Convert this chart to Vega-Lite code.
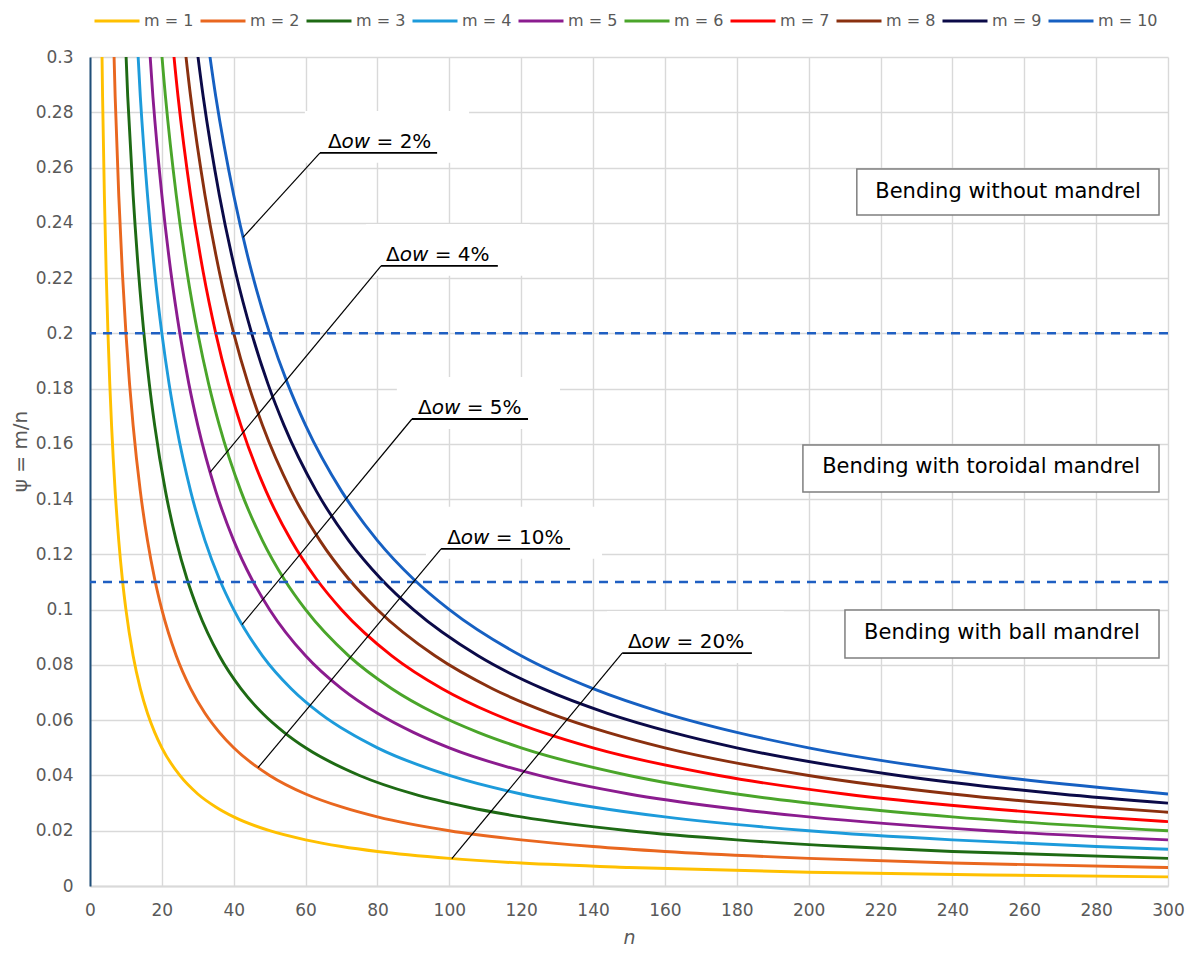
{
  "$schema": "https://vega.github.io/schema/vega-lite/v6.json",
  "width": 1078,
  "height": 829,
  "autosize": {"type": "none"},
  "padding": {"left": 90, "top": 57, "right": 23, "bottom": 68},
  "background": "white",
  "config": {
    "view": {"stroke": null},
    "font": "DejaVu Sans"
  },
  "datasets": {
    "curves": [
      {"m":"m = 1","n":3,"psi":0.3333},{"m":"m = 1","n":3.5,"psi":0.2857},{"m":"m = 1","n":4,"psi":0.25},{"m":"m = 1","n":4.5,"psi":0.2222},{"m":"m = 1","n":5,"psi":0.2},{"m":"m = 1","n":5.5,"psi":0.1818},{"m":"m = 1","n":6,"psi":0.1667},{"m":"m = 1","n":7,"psi":0.1429},{"m":"m = 1","n":8,"psi":0.125},{"m":"m = 1","n":9,"psi":0.1111},{"m":"m = 1","n":10,"psi":0.1},{"m":"m = 1","n":12,"psi":0.0833},{"m":"m = 1","n":14,"psi":0.0714},{"m":"m = 1","n":16,"psi":0.0625},{"m":"m = 1","n":18,"psi":0.0556},{"m":"m = 1","n":20,"psi":0.05},{"m":"m = 1","n":25,"psi":0.04},{"m":"m = 1","n":30,"psi":0.0333},{"m":"m = 1","n":35,"psi":0.0286},{"m":"m = 1","n":40,"psi":0.025},{"m":"m = 1","n":50,"psi":0.02},{"m":"m = 1","n":60,"psi":0.0167},{"m":"m = 1","n":70,"psi":0.0143},{"m":"m = 1","n":80,"psi":0.0125},{"m":"m = 1","n":100,"psi":0.01},{"m":"m = 1","n":120,"psi":0.0083},{"m":"m = 1","n":150,"psi":0.0067},{"m":"m = 1","n":200,"psi":0.005},{"m":"m = 1","n":250,"psi":0.004},{"m":"m = 1","n":300,"psi":0.0033},
      {"m":"m = 2","n":6,"psi":0.3333},{"m":"m = 2","n":7,"psi":0.2857},{"m":"m = 2","n":8,"psi":0.25},{"m":"m = 2","n":9,"psi":0.2222},{"m":"m = 2","n":10,"psi":0.2},{"m":"m = 2","n":11,"psi":0.1818},{"m":"m = 2","n":12,"psi":0.1667},{"m":"m = 2","n":14,"psi":0.1429},{"m":"m = 2","n":16,"psi":0.125},{"m":"m = 2","n":18,"psi":0.1111},{"m":"m = 2","n":20,"psi":0.1},{"m":"m = 2","n":24,"psi":0.0833},{"m":"m = 2","n":28,"psi":0.0714},{"m":"m = 2","n":32,"psi":0.0625},{"m":"m = 2","n":36,"psi":0.0556},{"m":"m = 2","n":40,"psi":0.05},{"m":"m = 2","n":50,"psi":0.04},{"m":"m = 2","n":60,"psi":0.0333},{"m":"m = 2","n":70,"psi":0.0286},{"m":"m = 2","n":80,"psi":0.025},{"m":"m = 2","n":100,"psi":0.02},{"m":"m = 2","n":120,"psi":0.0167},{"m":"m = 2","n":140,"psi":0.0143},{"m":"m = 2","n":160,"psi":0.0125},{"m":"m = 2","n":200,"psi":0.01},{"m":"m = 2","n":240,"psi":0.0083},{"m":"m = 2","n":300,"psi":0.0067},
      {"m":"m = 3","n":9,"psi":0.3333},{"m":"m = 3","n":10.5,"psi":0.2857},{"m":"m = 3","n":12,"psi":0.25},{"m":"m = 3","n":13.5,"psi":0.2222},{"m":"m = 3","n":15,"psi":0.2},{"m":"m = 3","n":16.5,"psi":0.1818},{"m":"m = 3","n":18,"psi":0.1667},{"m":"m = 3","n":21,"psi":0.1429},{"m":"m = 3","n":24,"psi":0.125},{"m":"m = 3","n":27,"psi":0.1111},{"m":"m = 3","n":30,"psi":0.1},{"m":"m = 3","n":36,"psi":0.0833},{"m":"m = 3","n":42,"psi":0.0714},{"m":"m = 3","n":48,"psi":0.0625},{"m":"m = 3","n":54,"psi":0.0556},{"m":"m = 3","n":60,"psi":0.05},{"m":"m = 3","n":75,"psi":0.04},{"m":"m = 3","n":90,"psi":0.0333},{"m":"m = 3","n":105,"psi":0.0286},{"m":"m = 3","n":120,"psi":0.025},{"m":"m = 3","n":150,"psi":0.02},{"m":"m = 3","n":180,"psi":0.0167},{"m":"m = 3","n":210,"psi":0.0143},{"m":"m = 3","n":240,"psi":0.0125},{"m":"m = 3","n":300,"psi":0.01},
      {"m":"m = 4","n":12,"psi":0.3333},{"m":"m = 4","n":14,"psi":0.2857},{"m":"m = 4","n":16,"psi":0.25},{"m":"m = 4","n":18,"psi":0.2222},{"m":"m = 4","n":20,"psi":0.2},{"m":"m = 4","n":22,"psi":0.1818},{"m":"m = 4","n":24,"psi":0.1667},{"m":"m = 4","n":28,"psi":0.1429},{"m":"m = 4","n":32,"psi":0.125},{"m":"m = 4","n":36,"psi":0.1111},{"m":"m = 4","n":40,"psi":0.1},{"m":"m = 4","n":48,"psi":0.0833},{"m":"m = 4","n":56,"psi":0.0714},{"m":"m = 4","n":64,"psi":0.0625},{"m":"m = 4","n":72,"psi":0.0556},{"m":"m = 4","n":80,"psi":0.05},{"m":"m = 4","n":100,"psi":0.04},{"m":"m = 4","n":120,"psi":0.0333},{"m":"m = 4","n":140,"psi":0.0286},{"m":"m = 4","n":160,"psi":0.025},{"m":"m = 4","n":200,"psi":0.02},{"m":"m = 4","n":240,"psi":0.0167},{"m":"m = 4","n":280,"psi":0.0143},{"m":"m = 4","n":300,"psi":0.0133},
      {"m":"m = 5","n":15,"psi":0.3333},{"m":"m = 5","n":17.5,"psi":0.2857},{"m":"m = 5","n":20,"psi":0.25},{"m":"m = 5","n":22.5,"psi":0.2222},{"m":"m = 5","n":25,"psi":0.2},{"m":"m = 5","n":27.5,"psi":0.1818},{"m":"m = 5","n":30,"psi":0.1667},{"m":"m = 5","n":35,"psi":0.1429},{"m":"m = 5","n":40,"psi":0.125},{"m":"m = 5","n":45,"psi":0.1111},{"m":"m = 5","n":50,"psi":0.1},{"m":"m = 5","n":60,"psi":0.0833},{"m":"m = 5","n":70,"psi":0.0714},{"m":"m = 5","n":80,"psi":0.0625},{"m":"m = 5","n":90,"psi":0.0556},{"m":"m = 5","n":100,"psi":0.05},{"m":"m = 5","n":125,"psi":0.04},{"m":"m = 5","n":150,"psi":0.0333},{"m":"m = 5","n":175,"psi":0.0286},{"m":"m = 5","n":200,"psi":0.025},{"m":"m = 5","n":250,"psi":0.02},{"m":"m = 5","n":300,"psi":0.0167},
      {"m":"m = 6","n":18,"psi":0.3333},{"m":"m = 6","n":21,"psi":0.2857},{"m":"m = 6","n":24,"psi":0.25},{"m":"m = 6","n":27,"psi":0.2222},{"m":"m = 6","n":30,"psi":0.2},{"m":"m = 6","n":33,"psi":0.1818},{"m":"m = 6","n":36,"psi":0.1667},{"m":"m = 6","n":42,"psi":0.1429},{"m":"m = 6","n":48,"psi":0.125},{"m":"m = 6","n":54,"psi":0.1111},{"m":"m = 6","n":60,"psi":0.1},{"m":"m = 6","n":72,"psi":0.0833},{"m":"m = 6","n":84,"psi":0.0714},{"m":"m = 6","n":96,"psi":0.0625},{"m":"m = 6","n":108,"psi":0.0556},{"m":"m = 6","n":120,"psi":0.05},{"m":"m = 6","n":150,"psi":0.04},{"m":"m = 6","n":180,"psi":0.0333},{"m":"m = 6","n":210,"psi":0.0286},{"m":"m = 6","n":240,"psi":0.025},{"m":"m = 6","n":300,"psi":0.02},
      {"m":"m = 7","n":21,"psi":0.3333},{"m":"m = 7","n":24.5,"psi":0.2857},{"m":"m = 7","n":28,"psi":0.25},{"m":"m = 7","n":31.5,"psi":0.2222},{"m":"m = 7","n":35,"psi":0.2},{"m":"m = 7","n":38.5,"psi":0.1818},{"m":"m = 7","n":42,"psi":0.1667},{"m":"m = 7","n":49,"psi":0.1429},{"m":"m = 7","n":56,"psi":0.125},{"m":"m = 7","n":63,"psi":0.1111},{"m":"m = 7","n":70,"psi":0.1},{"m":"m = 7","n":84,"psi":0.0833},{"m":"m = 7","n":98,"psi":0.0714},{"m":"m = 7","n":112,"psi":0.0625},{"m":"m = 7","n":126,"psi":0.0556},{"m":"m = 7","n":140,"psi":0.05},{"m":"m = 7","n":175,"psi":0.04},{"m":"m = 7","n":210,"psi":0.0333},{"m":"m = 7","n":245,"psi":0.0286},{"m":"m = 7","n":280,"psi":0.025},{"m":"m = 7","n":300,"psi":0.0233},
      {"m":"m = 8","n":24,"psi":0.3333},{"m":"m = 8","n":28,"psi":0.2857},{"m":"m = 8","n":32,"psi":0.25},{"m":"m = 8","n":36,"psi":0.2222},{"m":"m = 8","n":40,"psi":0.2},{"m":"m = 8","n":44,"psi":0.1818},{"m":"m = 8","n":48,"psi":0.1667},{"m":"m = 8","n":56,"psi":0.1429},{"m":"m = 8","n":64,"psi":0.125},{"m":"m = 8","n":72,"psi":0.1111},{"m":"m = 8","n":80,"psi":0.1},{"m":"m = 8","n":96,"psi":0.0833},{"m":"m = 8","n":112,"psi":0.0714},{"m":"m = 8","n":128,"psi":0.0625},{"m":"m = 8","n":144,"psi":0.0556},{"m":"m = 8","n":160,"psi":0.05},{"m":"m = 8","n":200,"psi":0.04},{"m":"m = 8","n":240,"psi":0.0333},{"m":"m = 8","n":280,"psi":0.0286},{"m":"m = 8","n":300,"psi":0.0267},
      {"m":"m = 9","n":27,"psi":0.3333},{"m":"m = 9","n":31.5,"psi":0.2857},{"m":"m = 9","n":36,"psi":0.25},{"m":"m = 9","n":40.5,"psi":0.2222},{"m":"m = 9","n":45,"psi":0.2},{"m":"m = 9","n":49.5,"psi":0.1818},{"m":"m = 9","n":54,"psi":0.1667},{"m":"m = 9","n":63,"psi":0.1429},{"m":"m = 9","n":72,"psi":0.125},{"m":"m = 9","n":81,"psi":0.1111},{"m":"m = 9","n":90,"psi":0.1},{"m":"m = 9","n":108,"psi":0.0833},{"m":"m = 9","n":126,"psi":0.0714},{"m":"m = 9","n":144,"psi":0.0625},{"m":"m = 9","n":162,"psi":0.0556},{"m":"m = 9","n":180,"psi":0.05},{"m":"m = 9","n":225,"psi":0.04},{"m":"m = 9","n":270,"psi":0.0333},{"m":"m = 9","n":300,"psi":0.03},
      {"m":"m = 10","n":30,"psi":0.3333},{"m":"m = 10","n":35,"psi":0.2857},{"m":"m = 10","n":40,"psi":0.25},{"m":"m = 10","n":45,"psi":0.2222},{"m":"m = 10","n":50,"psi":0.2},{"m":"m = 10","n":55,"psi":0.1818},{"m":"m = 10","n":60,"psi":0.1667},{"m":"m = 10","n":70,"psi":0.1429},{"m":"m = 10","n":80,"psi":0.125},{"m":"m = 10","n":90,"psi":0.1111},{"m":"m = 10","n":100,"psi":0.1},{"m":"m = 10","n":120,"psi":0.0833},{"m":"m = 10","n":140,"psi":0.0714},{"m":"m = 10","n":160,"psi":0.0625},{"m":"m = 10","n":180,"psi":0.0556},{"m":"m = 10","n":200,"psi":0.05},{"m":"m = 10","n":250,"psi":0.04},{"m":"m = 10","n":300,"psi":0.0333}
    ],
    "levels": [{"psi": 0.2}, {"psi": 0.11}],
    "labelBoxes": [
      {"n": 59.8, "n2": 105.5, "psi": 0.2617, "psi2": 0.2805},
      {"n": 76.8, "n2": 122.4, "psi": 0.2208, "psi2": 0.2396},
      {"n": 85.4, "n2": 130.8, "psi": 0.1654, "psi2": 0.1842},
      {"n": 93.5, "n2": 142.5, "psi": 0.1184, "psi2": 0.1372},
      {"n": 143.9, "n2": 193.1, "psi": 0.0807, "psi2": 0.0995}
    ],
    "leaders": [
      {"n": 42.6, "psi": 0.2347, "n2": 64.0, "psi2": 0.2653},
      {"n": 33.4, "psi": 0.1497, "n2": 81.0, "psi2": 0.2244},
      {"n": 42.3, "psi": 0.0946, "n2": 89.6, "psi2": 0.169},
      {"n": 46.75, "psi": 0.0428, "n2": 97.7, "psi2": 0.122},
      {"n": 100.7, "psi": 0.0099, "n2": 148.1, "psi2": 0.0843}
    ],
    "underlines": [
      {"n": 64.0, "n2": 96.6, "psi": 0.2653},
      {"n": 81.0, "n2": 113.5, "psi": 0.2244},
      {"n": 89.6, "n2": 121.9, "psi": 0.169},
      {"n": 97.7, "n2": 133.6, "psi": 0.122},
      {"n": 148.1, "n2": 184.2, "psi": 0.0843}
    ],
    "noteUpright": [
      {"n": 66.2, "psi": 0.2671, "t": "Δ"}, {"n": 79.74, "psi": 0.2671, "t": "= 2%"},
      {"n": 82.4, "psi": 0.2262, "t": "Δ"}, {"n": 95.94, "psi": 0.2262, "t": "= 4%"},
      {"n": 91.3, "psi": 0.1708, "t": "Δ"}, {"n": 104.84, "psi": 0.1708, "t": "= 5%"},
      {"n": 99.4, "psi": 0.1238, "t": "Δ"}, {"n": 112.94, "psi": 0.1238, "t": "= 10%"},
      {"n": 149.7, "psi": 0.0861, "t": "Δ"}, {"n": 163.24, "psi": 0.0861, "t": "= 20%"}
    ],
    "noteItalic": [
      {"n": 70.01, "psi": 0.2671, "t": "ow"},
      {"n": 86.21, "psi": 0.2262, "t": "ow"},
      {"n": 95.11, "psi": 0.1708, "t": "ow"},
      {"n": 103.21, "psi": 0.1238, "t": "ow"},
      {"n": 153.51, "psi": 0.0861, "t": "ow"}
    ],
    "regions": [
      {"n": 213.4, "n2": 297.5, "psi": 0.2595, "psi2": 0.2428, "tn": 255.5, "tpsi": 0.2511, "t": "Bending without mandrel"},
      {"n": 198.4, "n2": 297.5, "psi": 0.1596, "psi2": 0.1426, "tn": 248.0, "tpsi": 0.1518, "t": "Bending with toroidal mandrel"},
      {"n": 210.1, "n2": 297.5, "psi": 0.0999, "psi2": 0.0825, "tn": 253.8, "tpsi": 0.0917, "t": "Bending with ball mandrel"}
    ]
  },
  "layer": [
    {
      "data": {"name": "curves"},
      "mark": {"type": "line", "interpolate": "monotone", "strokeWidth": 2.9, "clip": true},
      "encoding": {
        "x": {
          "field": "n", "type": "quantitative",
          "scale": {"domain": [0, 300], "nice": false},
          "axis": {
            "title": "n", "titleFontStyle": "italic", "titleFontWeight": "normal",
            "titleFont": "DejaVu Sans", "titleFontSize": 19, "titleColor": "#595959", "titlePadding": 10,
            "values": [0, 20, 40, 60, 80, 100, 120, 140, 160, 180, 200, 220, 240, 260, 280, 300],
            "labelFont": "DejaVu Sans", "labelFontSize": 17, "labelColor": "#595959", "labelPadding": 16,
            "ticks": false, "grid": true, "gridColor": "#D9D9D9", "gridWidth": 1.4,
            "domainColor": "#D9D9D9", "domainWidth": 2, "labelFlush": false, "labelOverlap": false
          }
        },
        "y": {
          "field": "psi", "type": "quantitative",
          "scale": {"domain": [0, 0.3], "nice": false},
          "axis": {
            "title": "ψ =  m/n", "titleFontWeight": "normal",
            "titleFont": "DejaVu Sans", "titleFontSize": 20, "titleColor": "#595959", "titlePadding": 5,
            "titleY": 394,
            "values": [0, 0.02, 0.04, 0.06, 0.08, 0.1, 0.12, 0.14, 0.16, 0.18, 0.2, 0.22, 0.24, 0.26, 0.28, 0.3],
            "format": "~f",
            "labelFont": "DejaVu Sans", "labelFontSize": 17, "labelColor": "#595959", "labelPadding": 17,
            "ticks": false, "grid": true, "gridColor": "#D9D9D9", "gridWidth": 1.4,
            "domainColor": "#1F4E79", "domainWidth": 2, "labelFlush": false, "labelOverlap": false
          }
        },
        "color": {
          "field": "m", "type": "nominal",
          "scale": {
            "domain": ["m = 1", "m = 2", "m = 3", "m = 4", "m = 5", "m = 6", "m = 7", "m = 8", "m = 9", "m = 10"],
            "range": ["#FFC000", "#E9671F", "#1E6A14", "#1D9BDB", "#8B1C8F", "#4AA52A", "#FF0000", "#8A300F", "#0B0A48", "#1660C2"]
          },
          "legend": {
            "orient": "none", "legendX": 3, "legendY": -60,
            "direction": "horizontal", "columns": 10, "title": null,
            "symbolType": "stroke", "symbolSize": 2025, "symbolStrokeWidth": 3,
            "labelFont": "DejaVu Sans", "labelFontSize": 16, "labelColor": "#595959",
            "labelOffset": 3, "columnPadding": 0
          }
        }
      }
    },
    {
      "data": {"name": "labelBoxes"},
      "mark": {"type": "rect", "fill": "white", "stroke": null},
      "encoding": {
        "x": {"field": "n", "type": "quantitative"},
        "x2": {"field": "n2"},
        "y": {"field": "psi", "type": "quantitative"},
        "y2": {"field": "psi2"}
      }
    },
    {
      "data": {"name": "levels"},
      "mark": {"type": "rule", "color": "#1F5FC2", "strokeWidth": 2.5, "strokeDash": [9, 7]},
      "encoding": {"y": {"field": "psi", "type": "quantitative"}}
    },
    {
      "data": {"name": "leaders"},
      "mark": {"type": "rule", "color": "black", "strokeWidth": 1.2},
      "encoding": {
        "x": {"field": "n", "type": "quantitative"},
        "y": {"field": "psi", "type": "quantitative"},
        "x2": {"field": "n2"},
        "y2": {"field": "psi2"}
      }
    },
    {
      "data": {"name": "underlines"},
      "mark": {"type": "rule", "color": "black", "strokeWidth": 1.8},
      "encoding": {
        "x": {"field": "n", "type": "quantitative"},
        "x2": {"field": "n2"},
        "y": {"field": "psi", "type": "quantitative"}
      }
    },
    {
      "data": {"name": "noteUpright"},
      "mark": {"type": "text", "align": "left", "baseline": "alphabetic", "font": "DejaVu Sans", "fontSize": 20, "color": "black"},
      "encoding": {
        "x": {"field": "n", "type": "quantitative"},
        "y": {"field": "psi", "type": "quantitative"},
        "text": {"field": "t"}
      }
    },
    {
      "data": {"name": "noteItalic"},
      "mark": {"type": "text", "align": "left", "baseline": "alphabetic", "font": "DejaVu Sans", "fontSize": 20, "fontStyle": "italic", "color": "black"},
      "encoding": {
        "x": {"field": "n", "type": "quantitative"},
        "y": {"field": "psi", "type": "quantitative"},
        "text": {"field": "t"}
      }
    },
    {
      "data": {"name": "regions"},
      "mark": {"type": "rect", "fill": "white", "stroke": "#7F7F7F", "strokeWidth": 1.5},
      "encoding": {
        "x": {"field": "n", "type": "quantitative"},
        "x2": {"field": "n2"},
        "y": {"field": "psi", "type": "quantitative"},
        "y2": {"field": "psi2"}
      }
    },
    {
      "data": {"name": "regions"},
      "mark": {"type": "text", "align": "center", "baseline": "middle", "font": "DejaVu Sans", "fontSize": 21, "color": "black"},
      "encoding": {
        "x": {"field": "tn", "type": "quantitative"},
        "y": {"field": "tpsi", "type": "quantitative"},
        "text": {"field": "t"}
      }
    }
  ]
}
